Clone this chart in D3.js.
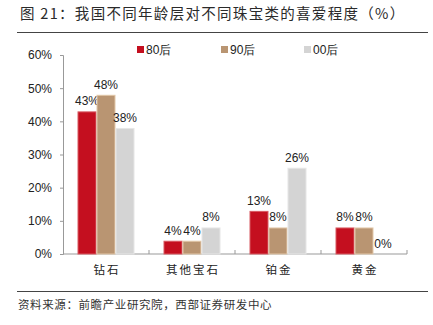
<!DOCTYPE html>
<html>
<head>
<meta charset="utf-8">
<script src="https://cdn.jsdelivr.net/npm/d3@7/dist/d3.min.js"></script>
<style>
  html, body { margin: 0; padding: 0; background: #fff; }
  svg { display: block; }
</style>
</head>
<body>
<svg id="chart" width="433" height="325"></svg>
<script>
// Jewellery categories and preference share (%) by generation
const categories = ["钻石", "其他宝石", "铂金", "黄金"];
const seriesNames = ["80后", "90后", "00后"];
const values80 = [43, 4, 13, 8];
const values90 = [48, 4, 8, 8];
const values00 = [38, 8, 26, 0];
const yTicks = [0, 10, 20, 30, 40, 50, 60];
const colors = ["#c40f1f", "#b99572", "#d4d4d4"];
const strokes = ["#d85a62", "#e2c7a8", "#e6e6e6"];

const seriesValues = [values80, values90, values00];
const cjk = "'Noto Sans CJK SC', sans-serif";
const latin = "'Liberation Sans', Arial, sans-serif";

const svg = d3.select("#chart");
const margin = { left: 63, right: 26, top: 55, bottom: 71 };
const W = 433, H = 325;

// Title and rules
svg.append("text")
  .attr("x", 20).attr("y", 19)
  .attr("font-family", cjk)
  .attr("font-size", 14.5)
  .attr("letter-spacing", 1.3)
  .attr("fill", "#2a2a2a")
  .text("图 21：我国不同年龄层对不同珠宝类的喜爱程度（%）");
svg.append("line")
  .attr("x1", 17).attr("x2", 428).attr("y1", 32.5).attr("y2", 32.5)
  .attr("stroke", "#444").attr("stroke-width", 1);
svg.append("line")
  .attr("x1", 17).attr("x2", 428).attr("y1", 291.5).attr("y2", 291.5)
  .attr("stroke", "#444").attr("stroke-width", 1);
svg.append("text")
  .attr("x", 18).attr("y", 309)
  .attr("font-family", cjk)
  .attr("font-size", 11.5)
  .attr("letter-spacing", 0.6)
  .attr("fill", "#333")
  .text("资料来源：前瞻产业研究院，西部证券研发中心");

// Scales
const x0 = d3.scaleBand()
  .domain(categories)
  .range([margin.left, W - margin.right])
  .paddingInner(0).paddingOuter(0);
const groupWidth = 57;
const x1 = d3.scaleBand()
  .domain(seriesNames)
  .range([(x0.bandwidth() - groupWidth) / 2, (x0.bandwidth() + groupWidth) / 2]);
const y = d3.scaleLinear()
  .domain([0, 60])
  .range([H - margin.bottom, margin.top]);

// Y axis
const yAxis = d3.axisLeft(y)
  .tickValues(yTicks)
  .tickFormat(d => d + "%")
  .tickSize(3)
  .tickPadding(8);
const yG = svg.append("g")
  .attr("transform", `translate(${margin.left},0)`)
  .call(yAxis);
yG.select(".domain").attr("stroke", "#999");
yG.selectAll(".tick line").attr("stroke", "#999");
yG.selectAll(".tick text")
  .attr("font-family", latin)
  .attr("font-size", 12)
  .attr("fill", "#222");

// X axis: ticks at category boundaries pointing up
const xG = svg.append("g")
  .attr("transform", `translate(0,${y(0)})`);
xG.append("line")
  .attr("x1", margin.left).attr("x2", W - margin.right)
  .attr("stroke", "#999");
const boundaries = categories.map(c => x0(c) + x0.bandwidth());
xG.selectAll(".bnd")
  .data(boundaries)
  .join("line")
  .attr("x1", d => d).attr("x2", d => d)
  .attr("y1", -4).attr("y2", 0)
  .attr("stroke", "#999");
xG.selectAll(".cat")
  .data(categories)
  .join("text")
  .attr("x", d => x0(d) + x0.bandwidth() / 2 + 1)
  .attr("y", 20)
  .attr("text-anchor", "middle")
  .attr("font-family", cjk)
  .attr("font-size", 11.5)
  .attr("letter-spacing", 2)
  .attr("fill", "#222")
  .text(d => d);

// Bars
const groups = svg.append("g")
  .selectAll("g")
  .data(categories)
  .join("g")
  .attr("transform", d => `translate(${x0(d)},0)`);

const cells = groups.selectAll("g")
  .data((c, i) => seriesNames.map((s, j) => ({ s, j, v: seriesValues[j][i] })))
  .join("g");

cells.filter(d => d.v > 0)
  .append("rect")
  .attr("x", d => x1(d.s) + 0.5)
  .attr("width", x1.bandwidth() - 1)
  .attr("y", d => y(d.v) + 0.5)
  .attr("height", d => y(0) - y(d.v) - 0.5)
  .attr("fill", d => colors[d.j])
  .attr("stroke", d => strokes[d.j])
  .attr("stroke-width", 1);

cells.append("text")
  .attr("x", d => x1(d.s) + x1.bandwidth() / 2)
  .attr("y", d => y(d.v) - 6)
  .attr("text-anchor", "middle")
  .attr("font-family", latin)
  .attr("font-size", 12)
  .attr("fill", "#222")
  .text(d => d.v + "%");

// Legend
const legendX = [137, 221, 304];
const legend = svg.append("g")
  .selectAll("g")
  .data(seriesNames)
  .join("g")
  .attr("transform", (d, i) => `translate(${legendX[i]},46)`);
legend.append("rect")
  .attr("width", 7).attr("height", 7)
  .attr("fill", (d, i) => colors[i]);
legend.append("text")
  .attr("x", 9).attr("y", 7.5)
  .attr("font-family", latin)
  .attr("font-size", 12)
  .attr("fill", "#222")
  .text(d => d);
</script>
</body>
</html>
